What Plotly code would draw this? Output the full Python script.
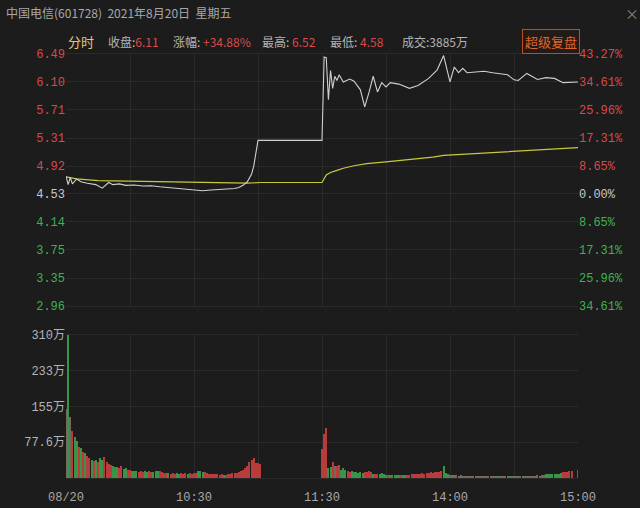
import plotly.graph_objects as go

# ── Data ──────────────────────────────────────────────────────────────────────

PRE_CLOSE = 4.53
PRICE_TICKS = [6.49, 6.10, 5.71, 5.31, 4.92, 4.53, 4.14, 3.75, 3.35, 2.96]
PCT_LABELS = ["43.27%", "34.61%", "25.96%", "17.31%", "8.65%", "0.00%",
              "8.65%", "17.31%", "25.96%", "34.61%"]
TIME_TICKS = [0, 60, 120, 180, 240]
TIME_LABELS = ["08/20", "10:30", "11:30", "14:00", "15:00"]
VOL_TICKS = [77.6, 155, 233, 310]
VOL_LABELS = ["77.6万", "155万", "233万", "310万"]

# minute index (0 = 9:30, 120 = 11:30/13:00, 240 = 15:00) and last price
PRICE_MIN = [0, 1, 2, 3, 5, 7, 10, 14, 17, 20, 22, 25, 28, 32, 36, 40, 44, 48, 52, 56,
             60, 64, 68, 72, 76, 79, 81, 83, 85, 86, 87, 88, 89, 90, 120,
             121, 122, 123, 124, 125, 126, 127, 128, 130, 133, 135, 138, 140, 142, 144,
             146, 148, 150, 152, 156, 161, 165, 170, 174, 177, 180, 182, 184, 186, 188,
             191, 196, 200, 207, 210, 212, 216, 219, 221, 225, 229, 233, 240]
PRICE = [4.78, 4.66, 4.76, 4.67, 4.74, 4.70, 4.68, 4.66, 4.61, 4.69, 4.66, 4.67, 4.65, 4.655,
         4.64, 4.645, 4.63, 4.62, 4.61, 4.60, 4.58, 4.575, 4.585, 4.59, 4.60, 4.605, 4.62,
         4.65, 4.70, 4.75, 4.81, 4.92, 5.10, 5.28, 5.28,
         6.45, 6.44, 5.85, 6.26, 6.01, 6.18, 6.12, 6.20, 6.10, 6.14, 6.11, 5.99, 5.75, 5.95,
         6.18, 5.96, 6.09, 6.03, 6.09, 6.07, 6.01, 6.05, 6.15, 6.27, 6.47, 6.10, 6.31, 6.23,
         6.29, 6.23, 6.24, 6.25, 6.23, 6.20, 6.13, 6.12, 6.22, 6.17, 6.135, 6.16, 6.15, 6.09,
         6.10]

AVG_MIN = [0, 5, 15, 40, 70, 85, 91, 120, 122, 124, 127, 130, 135, 141, 150, 157, 165,
           172, 177, 188, 203, 219, 240]
AVG = [4.77, 4.74, 4.715, 4.70, 4.685, 4.68, 4.69, 4.69, 4.795, 4.83, 4.86, 4.89, 4.925,
       4.955, 4.98, 5.00, 5.025, 5.045, 5.07, 5.09, 5.12, 5.145, 5.18]

# volume per minute, 万; morning starts at minute 0, afternoon at minute 120
VOL_AM = [150, 310, 133, 103, 88, 81, 67, 65, 56, 54,
          47, 44, 40, 37, 38, 35, 44, 40, 45, 35,
          31, 29, 27, 24, 24, 22, 26, 20, 21, 18,
          17, 16, 15, 16, 14, 15, 14, 15, 13, 15,
          14, 13, 15, 16, 15, 12, 10, 11, 10, 9,
          10, 9, 10, 9, 10, 9, 10, 9, 10, 9,
          10, 10, 15, 16, 14, 12, 10, 9, 8, 8,
          8, 8, 7, 8, 7, 7, 8, 9, 10, 10,
          11, 13, 15, 18, 22, 26, 35, 38, 44, 32, 33, 30]
VOL_AM_DIR = ("NGNRGGRGRG" "RRGRGRGGRR" "RRGGGRRGGR" "RGGGRRRGGR" "RGGGRRRRGR"
              "RRGGRRRGRR" "RRGGGRRRRR" "RRRRGRRRRR" "RRRRRRRRRRRR")
VOL_PM = [63, 96, 109, 22, 24, 34, 25, 27, 28, 18,
          21, 18, 15, 13, 15, 13, 13, 11, 12, 11,
          13, 14, 16, 13, 9, 8, 9, 8, 10, 8,
          7, 6, 7, 6, 6, 7, 6, 6, 7, 6,
          7, 7, 8, 8, 9, 8, 9, 10, 9, 10,
          11, 12, 10, 13, 12, 14, 16, 26, 10, 9,
          7, 6, 6, 6, 5, 6, 5, 4, 5, 5,
          4, 5, 4, 5, 5, 4, 5, 4, 5, 4,
          5, 5, 4, 5, 4, 5, 4, 5, 4, 5,
          5, 4, 5, 4, 5, 4, 5, 5, 4, 5,
          5, 6, 5, 6, 6, 8, 9, 8, 9, 8,
          9, 9, 10, 12, 13, 14, 15, 16, 0, 0,
          18]
VOL_PM_DIR = ("RRRGGRNRRG" "GGRRGGGGGG" "RRRRGRRGGG" "GRGGGGGRGG" "RRRRRRRRRR"
              "RRRRRRRGGG" "NNNNNNNNNN" "NNNNNNNNNN" "NNGNNNNGNN" "NNNNGNNNNN"
              "NNNNNGGGGG" "GGGRRRRRRR" "R")

# ── Style ─────────────────────────────────────────────────────────────────────

BG = "#1c1c1c"
GRID = "#2a2a2a"
RED = "#d84a4a"
GREEN = "#3cb450"
TXT = "#b4b4b4"
DIR_COLORS = {"R": "#b83c3c", "G": "#3a9448", "N": "#76685e"}
NUM_FONT = "Liberation Mono, Noto Sans CJK SC"
CJK_FONT = "Noto Sans CJK SC"

W, H = 640, 508
X0, X1 = 66, 578          # plot area, px
P_TOP, P_BOT = 54, 306    # price panel, px
V_TOP, V_BOT = 335, 478   # volume panel, px


def py(px):
    return 1 - px / H


def tick_color(v):
    if v > PRE_CLOSE + 1e-9:
        return RED
    if v < PRE_CLOSE - 1e-9:
        return GREEN
    return "#c8c8c8"


price_text = [f"<span style='color:{tick_color(v)}'>{v:.2f}</span>" for v in PRICE_TICKS]
pct_text = [f"<span style='color:{tick_color(v)}'>{t}</span>" for v, t in zip(PRICE_TICKS, PCT_LABELS)]

# ── Figure ────────────────────────────────────────────────────────────────────

fig = go.Figure()

fig.add_trace(go.Bar(
    x=list(range(len(VOL_AM))), y=VOL_AM, width=0.5,
    marker=dict(color=[DIR_COLORS[d] for d in VOL_AM_DIR], line_width=0),
    xaxis="x2", yaxis="y2", showlegend=False,
))
fig.add_trace(go.Bar(
    x=list(range(120, 120 + len(VOL_PM))), y=VOL_PM, width=0.5,
    marker=dict(color=[DIR_COLORS[d] for d in VOL_PM_DIR], line_width=0),
    xaxis="x2", yaxis="y2", showlegend=False,
))
fig.add_trace(go.Scatter(
    x=AVG_MIN, y=AVG, mode="lines", line=dict(color="#c8c83c", width=1.2),
    xaxis="x", yaxis="y", showlegend=False,
))
fig.add_trace(go.Scatter(
    x=PRICE_MIN, y=PRICE, mode="lines", line=dict(color="#cfcfcf", width=1.1),
    xaxis="x", yaxis="y", showlegend=False,
))
# carrier for the right-hand percent axis
fig.add_trace(go.Scatter(
    x=PRICE_MIN, y=PRICE, mode="lines", line=dict(width=0), opacity=0,
    xaxis="x", yaxis="y3", showlegend=False, hoverinfo="skip",
))

dom_x = [X0 / W, X1 / W]
axis_font = dict(family=NUM_FONT, size=12, color=TXT)

fig.update_layout(
    width=W, height=H,
    margin=dict(l=0, r=0, t=0, b=0),
    paper_bgcolor=BG, plot_bgcolor=BG,
    bargap=0, showlegend=False,
    xaxis=dict(domain=dom_x, range=[0, 240], anchor="y", tickmode="linear", tick0=0, dtick=30,
               showticklabels=False, showgrid=True, gridcolor=GRID, zeroline=False,
               showline=True, linecolor=GRID, mirror=True, automargin=False),
    yaxis=dict(domain=[py(P_BOT), py(P_TOP)], range=[2.958, 6.492], anchor="x",
               tickvals=PRICE_TICKS, ticktext=price_text, tickfont=axis_font,
               showgrid=True, gridcolor=GRID, zeroline=False, ticks="", automargin=False),
    yaxis3=dict(overlaying="y", side="right", anchor="x", range=[2.958, 6.492],
                tickvals=PRICE_TICKS, ticktext=pct_text, tickfont=axis_font,
                showgrid=False, zeroline=False, ticks="", automargin=False),
    xaxis2=dict(domain=dom_x, range=[0, 240], anchor="y2", tickvals=TIME_TICKS,
                ticktext=TIME_LABELS, tickfont=dict(family=NUM_FONT, size=12, color="#a8a8a8"),
                showgrid=True, gridcolor=GRID, zeroline=False,
                minor=dict(tick0=0, dtick=30, showgrid=True, gridcolor=GRID),
                ticks="outside", ticklen=8, tickcolor=BG,
                showline=True, linecolor=GRID, mirror=True, automargin=False),
    yaxis2=dict(domain=[py(V_BOT), py(V_TOP)], range=[0, 310.4], anchor="x2",
                tickvals=VOL_TICKS, ticktext=VOL_LABELS,
                tickfont=dict(family=NUM_FONT, size=12, color=TXT),
                showgrid=True, gridcolor=GRID, zeroline=False, ticks="", automargin=False),
)

# ── Header texts ──────────────────────────────────────────────────────────────

def label(x, y, text, size=12, color=TXT, family=CJK_FONT, anchor="left"):
    fig.add_annotation(x=x / W, y=py(y), xref="paper", yref="paper", text=text,
                       showarrow=False, xanchor=anchor, yanchor="middle",
                       font=dict(family=family, size=size, color=color))


def val(v):
    return f"<span style='color:{RED}'>{v}</span>"


label(4, 13, "中国电信(601728)  2021年8月20日  星期五", size=12, color="#a8a8a8")
label(632, 13, "×", size=14, color="#808080", anchor="center")
label(66, 42, "分时", size=13, color="#e6c878")
label(106, 42, "收盘:" + val("6.11"))
label(171, 42, "涨幅: " + val("+34.88%"))
label(260, 42, "最高: " + val("6.52"))
label(328, 42, "最低: " + val("4.58"))
label(400, 42, "成交:3885万")
fig.add_annotation(x=551 / W, y=py(42), xref="paper", yref="paper", text="超级复盘",
                   showarrow=False, xanchor="center", yanchor="middle",
                   font=dict(family=CJK_FONT, size=13, color="#e0642a"),
                   bordercolor="#b8501e", borderwidth=1, borderpad=2, bgcolor="#241a16")

fig.write_html("out.html", config={"displayModeBar": False},
               post_script="document.body.style.margin='0';"
                           "document.body.style.background='" + BG + "';")
